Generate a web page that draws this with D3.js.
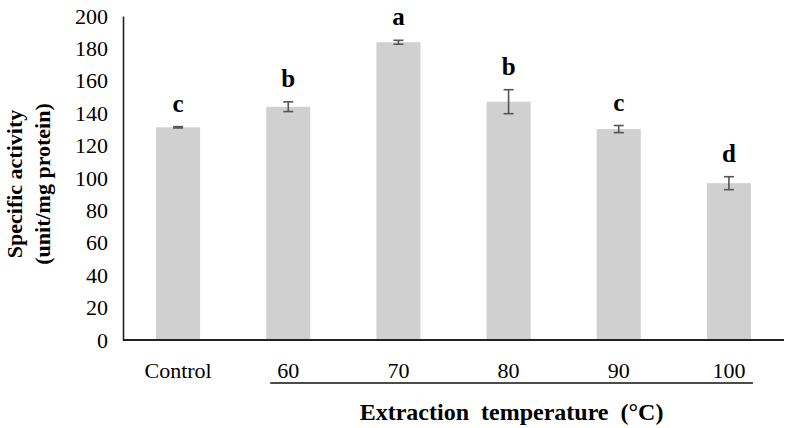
<!DOCTYPE html>
<html>
<head>
<meta charset="utf-8">
<script src="https://cdn.jsdelivr.net/npm/d3@7"></script>
<style>
  html, body { margin: 0; padding: 0; background: #fff; }
  svg { display: block; }
</style>
</head>
<body>
<svg id="chart" width="786" height="428"></svg>
<script>
const categories = ["Control", "60", "70", "80", "90", "100"];
const values = [131.3, 144.0, 183.8, 147.1, 130.2, 96.8];
const errors = [0.4, 3.0, 1.2, 7.4, 2.2, 4.0];
const letters = ["c", "b", "a", "b", "c", "d"];
const yTicks = [0, 20, 40, 60, 80, 100, 120, 140, 160, 180, 200];
const yTitle = ["Specific activity", "(unit/mg protein)"];
const xTitle = "Extraction  temperature  (°C)";

(function () {
const svg = d3.select("#chart");
const mLeft = 123, mRight = 784, mTop = 16, mBottom = 340;

const x = d3.scaleBand().domain(categories).range([mLeft, mRight])
  .paddingInner(0.6).paddingOuter(0.3);
const y = d3.scaleLinear().domain([0, 200]).range([mBottom, mTop]);

const serif = "'Liberation Serif', 'Times New Roman', serif";

// bars
svg.append("g").selectAll("rect").data(categories).join("rect")
  .attr("x", d => x(d))
  .attr("width", x.bandwidth())
  .attr("y", (d, i) => y(values[i]))
  .attr("height", (d, i) => y(0) - y(values[i]))
  .attr("fill", "#d0d0d0");

// error bars
const eg = svg.append("g").attr("stroke", "#555").attr("stroke-width", 1.6).attr("fill", "none");
categories.forEach((c, i) => {
  const cx = x(c) + x.bandwidth() / 2;
  const y1 = y(values[i] + errors[i]), y2 = y(values[i] - errors[i]);
  eg.append("line").attr("x1", cx).attr("x2", cx).attr("y1", y1).attr("y2", y2);
  eg.append("line").attr("x1", cx - 5).attr("x2", cx + 5).attr("y1", y1).attr("y2", y1);
  eg.append("line").attr("x1", cx - 5).attr("x2", cx + 5).attr("y1", y2).attr("y2", y2);
});

// significance letters
svg.append("g").selectAll("text").data(categories).join("text")
  .attr("x", d => x(d) + x.bandwidth() / 2)
  .attr("y", (d, i) => y(values[i] + errors[i]) - 15)
  .attr("text-anchor", "middle")
  .attr("font-family", serif)
  .attr("font-weight", "bold")
  .attr("font-size", 25)
  .attr("fill", "#000")
  .text((d, i) => letters[i]);

// y axis
const yAxis = d3.axisLeft(y).tickValues(yTicks).tickSize(0).tickPadding(15);
const yg = svg.append("g").attr("transform", `translate(${mLeft},0)`).call(yAxis);
yg.select(".domain").attr("stroke", "#222").attr("stroke-width", 1.6);
yg.selectAll("text").attr("font-family", serif).attr("font-size", 22).attr("fill", "#000");

// x axis
const xAxis = d3.axisBottom(x).tickSize(0).tickPadding(0);
const xg = svg.append("g").attr("transform", `translate(0,${mBottom})`).call(xAxis);
xg.select(".domain").remove();
xg.append("line").attr("x1", mLeft).attr("x2", mRight).attr("y1", 0).attr("y2", 0)
  .attr("stroke", "#222").attr("stroke-width", 2);
xg.selectAll(".tick text").attr("font-family", serif).attr("font-size", 22)
  .attr("fill", "#000").attr("dy", null).attr("y", 38);

// underline grouping the temperature categories
const c1 = categories[1], cN = categories[categories.length - 1];
const ux1 = x(c1) + 4, ux2 = x(cN) + x.bandwidth() + 2;
svg.append("line")
  .attr("x1", ux1).attr("x2", ux2)
  .attr("y1", 383).attr("y2", 383)
  .attr("stroke", "#111").attr("stroke-width", 1.6);

// x title
svg.append("text")
  .attr("x", (ux1 + ux2) / 2)
  .attr("y", 420)
  .attr("text-anchor", "middle")
  .attr("font-family", serif).attr("font-weight", "bold").attr("font-size", 24)
  .attr("fill", "#000")
  .style("white-space", "pre")
  .text(xTitle);

// y title
const yt = svg.append("text")
  .attr("transform", `translate(0,${(mTop + mBottom) / 2 + 6}) rotate(-90)`)
  .attr("text-anchor", "middle")
  .attr("font-family", serif).attr("font-weight", "bold").attr("font-size", 22)
  .attr("fill", "#000");
yt.selectAll("tspan").data(yTitle).join("tspan")
  .attr("x", 0).attr("y", (d, i) => 22 + i * 28)
  .text(d => d);
})();
</script>
</body>
</html>
